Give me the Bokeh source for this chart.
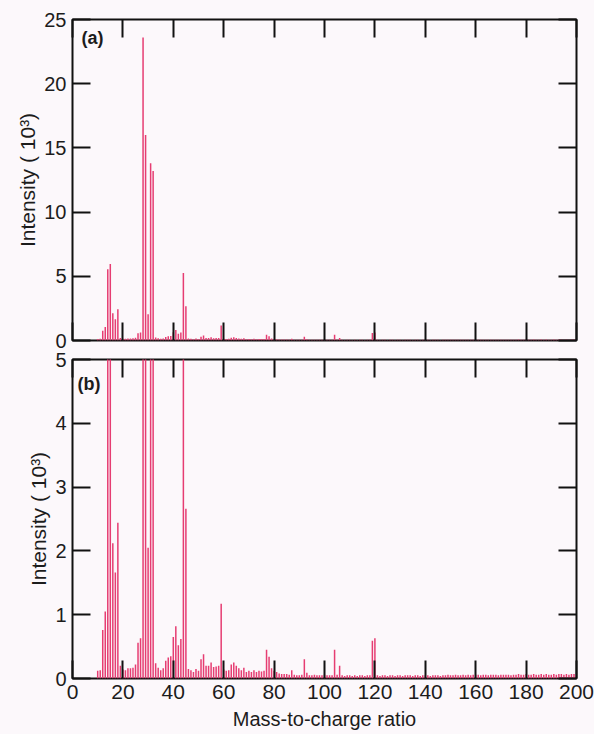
from bokeh.plotting import figure
from bokeh.models import LinearAxis, FixedTicker, Range1d, Label, ColumnDataSource
from bokeh.layouts import column
from bokeh.embed import file_html
from bokeh.resources import INLINE

# ---------------- data (intensity in units of 10^3) ----------------
mz = list(range(10, 201))

int_10_45 = [0.12, 0.13, 0.76, 1.05, 5.55, 5.95, 2.12, 1.66, 2.44, 0.20,
             0.14, 0.13, 0.16, 0.16, 0.17, 0.22, 0.56, 0.63, 23.6, 16.0,
             2.05, 13.8, 13.2, 0.24, 0.17, 0.13, 0.16, 0.28, 0.33, 0.35,
             0.65, 0.82, 0.52, 0.62, 5.25, 2.66]
int_46_80 = [0.15, 0.13, 0.10, 0.15, 0.12, 0.30, 0.38, 0.20, 0.20, 0.25,
             0.18, 0.19, 0.20, 1.17, 0.14, 0.12, 0.13, 0.22, 0.25, 0.20,
             0.16, 0.13, 0.17, 0.10, 0.12, 0.10, 0.13, 0.10, 0.12, 0.11,
             0.12, 0.45, 0.34, 0.16, 0.12]
int_81_120 = [0.10, 0.08, 0.07, 0.07, 0.07, 0.06, 0.13, 0.06, 0.05, 0.05,
              0.06, 0.30, 0.09, 0.05, 0.05, 0.06, 0.05, 0.05, 0.05, 0.06,
              0.05, 0.05, 0.05, 0.45, 0.06, 0.20, 0.05, 0.04, 0.05, 0.05,
              0.04, 0.05, 0.04, 0.05, 0.05, 0.04, 0.05, 0.05, 0.59, 0.63]
int_121_160 = [0.05, 0.04, 0.05, 0.05, 0.04, 0.05, 0.05, 0.04, 0.05, 0.05,
               0.04, 0.05, 0.05, 0.05, 0.04, 0.05, 0.05, 0.04, 0.05, 0.05,
               0.05, 0.04, 0.05, 0.05, 0.05, 0.04, 0.05, 0.05, 0.06, 0.05,
               0.05, 0.06, 0.05, 0.05, 0.06, 0.05, 0.06, 0.05, 0.06, 0.06]
int_161_200 = [0.06, 0.05, 0.06, 0.06, 0.05, 0.06, 0.06, 0.06, 0.05, 0.06,
               0.06, 0.06, 0.06, 0.05, 0.06, 0.06, 0.07, 0.06, 0.06, 0.07,
               0.06, 0.06, 0.07, 0.06, 0.06, 0.07, 0.06, 0.07, 0.06, 0.06,
               0.07, 0.06, 0.07, 0.07, 0.06, 0.07, 0.06, 0.07, 0.07, 0.06]
intensity = int_10_45 + int_46_80 + int_81_120 + int_121_160 + int_161_200

x_ticks = [0, 20, 40, 60, 80, 100, 120, 140, 160, 180, 200]
y_ticks_a = [0, 5, 10, 15, 20, 25]
y_ticks_b = [0, 1, 2, 3, 4, 5]
x_label = "Mass-to-charge ratio"
y_label = "Intensity ( 10\u00b3)"

# ---------------- styling ----------------
BG = "#fcf8fb"
BAR = "#e63d72"
FONT = "Liberation Sans"
TXT = "#1c1c1c"

src = ColumnDataSource(dict(mz=mz, y0=[0.0] * len(mz), y1=intensity))


def style_axis(ax, show_labels, size="20px"):
    ax.major_tick_in = 18
    ax.major_tick_out = 0
    ax.minor_tick_in = 0
    ax.minor_tick_out = 0
    ax.major_tick_line_width = 2
    ax.major_tick_line_color = "#111111"
    ax.axis_line_color = None
    if show_labels:
        ax.major_label_text_font = FONT
        ax.major_label_text_font_size = size
        ax.major_label_text_color = TXT
    else:
        ax.major_label_text_font_size = "1px"
        ax.major_label_text_color = None
        ax.major_label_standoff = 0


def make_panel(height, ymax, yticks, bottom_labels, tag, tag_x, tag_y, top_b, bot_b):
    p = figure(width=594, height=height,
               x_range=Range1d(0, 200), y_range=Range1d(0, ymax),
               output_backend="svg", toolbar_location=None,
               x_axis_location=None, y_axis_location=None,
               min_border_left=72, min_border_right=18,
               min_border_top=top_b, min_border_bottom=bot_b)
    p.background_fill_color = BG
    p.border_fill_color = BG
    p.outline_line_color = "#111111"
    p.outline_line_width = 2
    p.xgrid.visible = False
    p.ygrid.visible = False

    left = LinearAxis(ticker=FixedTicker(ticks=yticks))
    right = LinearAxis(ticker=FixedTicker(ticks=yticks))
    below = LinearAxis(ticker=FixedTicker(ticks=x_ticks))
    above = LinearAxis(ticker=FixedTicker(ticks=x_ticks))
    style_axis(left, True, "20px")
    style_axis(right, False)
    style_axis(below, bottom_labels, "21px")
    style_axis(above, False)

    left.major_label_standoff = 6
    left.axis_label = y_label
    left.axis_label_text_font = FONT
    left.axis_label_text_font_style = "normal"
    left.axis_label_text_font_size = "21px"
    left.axis_label_text_color = TXT
    left.axis_label_standoff = 2

    if bottom_labels:
        below.major_label_standoff = 6
        below.axis_label = x_label
        below.axis_label_text_font = FONT
        below.axis_label_text_font_style = "normal"
        below.axis_label_text_font_size = "20px"
        below.axis_label_text_color = TXT
        below.axis_label_standoff = 6

    p.add_layout(left, "left")
    p.add_layout(right, "right")
    p.add_layout(below, "below")
    p.add_layout(above, "above")

    p.segment(x0="mz", y0="y0", x1="mz", y1="y1", source=src,
              line_color=BAR, line_width=1.5)

    p.add_layout(Label(x=tag_x, y=tag_y, text=tag, text_font=FONT,
                       text_font_size="18px", text_font_style="bold",
                       text_color=TXT, text_baseline="top", text_align="left"))
    return p


pa = make_panel(350, 25, y_ticks_a, False, "(a)", 3.6, 24.3, 19, 10)
pb = make_panel(384, 5, y_ticks_b, True, "(b)", 2.0, 4.78, 9, 56)

layout = column(pa, pb, spacing=0)
layout.background = BG

open("out.html", "w").write(file_html(layout, INLINE))
